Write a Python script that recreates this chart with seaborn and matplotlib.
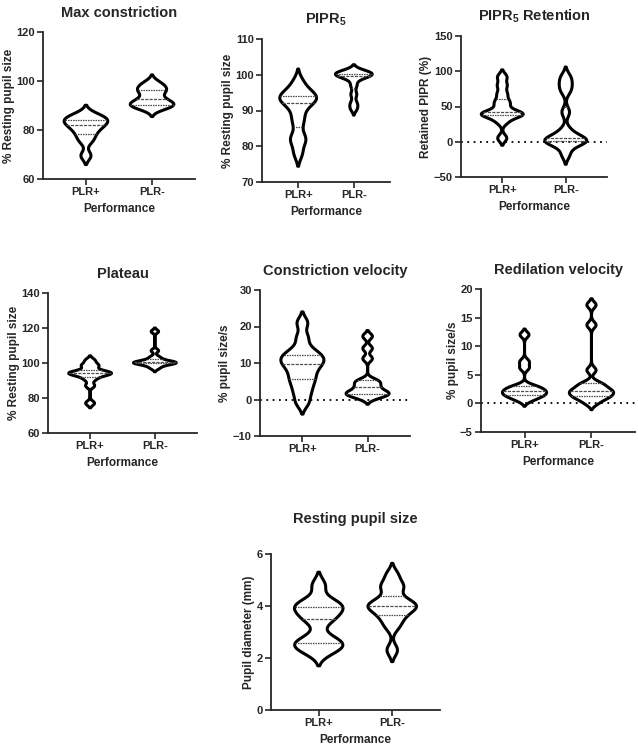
import numpy as np
import pandas as pd
import matplotlib
matplotlib.use("Agg")
import matplotlib.pyplot as plt
import seaborn as sns

# groups
groups = ["PLR+", "PLR-"]

# Max constriction (% resting pupil size)
maxcon_pos = [69.5, 75.5, 78, 80, 81.5, 82.5, 83.5, 84.5, 85, 86.5]
maxcon_neg = [88.5, 89.5, 90, 90.5, 91, 92, 93, 95, 96, 97, 98, 99.5]

# PIPR5
pipr_pos = [78, 81.5, 82.5, 86.5, 89, 91.7, 92.5, 93.2, 93.8, 94.6, 95.5, 98]
pipr_neg = [90.5, 92, 94.5, 97, 99, 99.5, 99.9, 100, 100.2, 100.5, 100.8, 101]

# PIPR5 retention (%)
ret_pos = [5, 28, 36, 38, 39, 40.5, 43, 52, 58, 68, 80, 92]
ret_neg = [-18, -4, 0, 0.5, 2, 3.5, 7, 16, 42, 72, 82, 92]

# Plateau
plat_pos = [77, 87, 90.5, 92.5, 93.5, 94, 94.3, 94.7, 95.5, 98, 99, 101.5]
plat_neg = [97, 98.5, 99.5, 99.8, 100, 100.3, 100.5, 101, 102, 103.5, 107, 118]

# Constriction velocity (% pupil size/s)
cvel_pos = [-1, 1.5, 3.5, 5.2, 6.5, 8, 9.3, 10, 11, 11.7, 12.5, 14, 17, 21]
cvel_neg = [0.3, 1, 1.4, 1.6, 2, 2.5, 3.3, 4, 4.8, 5.3, 11.2, 14, 17.3]

# Redilation velocity (% pupil size/s)
rvel_pos = [0.5, 1, 1.3, 1.5, 1.8, 2, 2.2, 2.5, 2.8, 3.1, 6.2, 7.3, 12]
rvel_neg = [0, 0.7, 1.1, 1.25, 1.6, 2, 2.15, 2.25, 2.8, 3.2, 3.6, 5.8, 13.7, 17.2]

# Resting pupil size (mm)
rest_pos = [2.2, 2.4, 2.5, 2.6, 2.8, 3.4, 3.6, 3.8, 3.95, 4.05, 4.2, 4.8]
rest_neg = [2.3, 3.2, 3.5, 3.7, 3.9, 3.95, 4.05, 4.1, 4.3, 4.7, 4.8, 5.2]

sns.set_style("ticks")
plt.rcParams["font.family"] = ["Liberation Sans", "DejaVu Sans"]
plt.rcParams["font.weight"] = "bold"
plt.rcParams["axes.titleweight"] = "bold"
plt.rcParams["axes.labelweight"] = "bold"
plt.rcParams["mathtext.fontset"] = "custom"
plt.rcParams["mathtext.rm"] = "Liberation Sans:bold"
plt.rcParams["mathtext.it"] = "Liberation Sans:bold"
plt.rcParams["mathtext.bf"] = "Liberation Sans:bold"

W, H = 638, 754
fig = plt.figure(figsize=(W / 100, H / 100), dpi=100)


def box(left, top, right, bottom):
    return [left / W, 1 - bottom / H, (right - left) / W, (bottom - top) / H]


def fixed_bw(bw):
    # kernel bandwidth in data units
    return lambda kde: bw / kde.dataset.std(ddof=1)


# title, ylabel, pos, neg, ylim, yticks, bandwidths, axes box, zero line, xlabel, title pad
panels = [
    ("Max constriction", "% Resting pupil size", maxcon_pos, maxcon_neg,
     (60, 120), [60, 80, 100, 120], (1.8, 1.5), box(43, 32, 195, 179), False, True, 11),
    (r"PIPR$_5$", "% Resting pupil size", pipr_pos, pipr_neg,
     (70, 110), [70, 80, 90, 100, 110], (1.8, 0.9), box(262, 39, 390, 182), False, True, 11),
    (r"PIPR$_5$ Retention", "Retained PIPR (%)", ret_pos, ret_neg,
     (-50, 150), [-50, 0, 50, 100, 150], (5, 7), box(461, 36, 607, 177), True, True, 11),
    ("Plateau", "% Resting pupil size", plat_pos, plat_neg,
     (60, 140), [60, 80, 100, 120, 140], (1.3, 1.0), box(48, 293, 197, 433), False, True, 11),
    ("Constriction velocity", "% pupil size/s", cvel_pos, cvel_neg,
     (-10, 30), [-10, 0, 10, 20, 30], (1.5, 0.8), box(260, 290, 410, 436), True, False, 11),
    ("Redilation velocity", "% pupil size/s", rvel_pos, rvel_neg,
     (-5, 20), [-5, 0, 5, 10, 15, 20], (0.5, 0.55), box(481, 289, 635, 432), True, True, 11),
    ("Resting pupil size", "Pupil diameter (mm)", rest_pos, rest_neg,
     (0, 6), [0, 2, 4, 6], (0.25, 0.22), box(271, 554, 440, 710), False, True, 22),
]

for title, ylab, pos, neg, ylim, yticks, bws, rect, zero, xlab, pad in panels:
    ax = fig.add_axes(rect)
    if zero:
        ax.axhline(0, color="black", linestyle=(0, (1, 2.5)), linewidth=1.3, zorder=0)
    for g, vals, bw in zip(groups, [pos, neg], bws):
        df = pd.DataFrame({"group": [g] * len(vals), "value": vals})
        sns.violinplot(data=df, x="group", y="value", order=groups, ax=ax,
                       color="black", fill=False, linewidth=2.2, width=0.66,
                       density_norm="width",
                       inner="quart", inner_kws=dict(linewidth=0.9, color="0.3"),
                       bw_method=fixed_bw(bw), gridsize=300, cut=2)
    ax.set_xlim(-0.65, 1.65)
    ax.set_ylim(*ylim)
    ax.set_yticks(yticks)
    ax.set_title(title, fontsize=10.5, pad=pad)
    ax.set_ylabel(ylab, fontsize=8.5, labelpad=1)
    ax.set_xlabel("Performance" if xlab else "", fontsize=8.5)
    ax.tick_params(labelsize=8, width=1.2, length=4, pad=2)
    for s in ["left", "bottom"]:
        ax.spines[s].set_linewidth(1.3)
    sns.despine(ax=ax)

fig.savefig("out.png", dpi=100)
